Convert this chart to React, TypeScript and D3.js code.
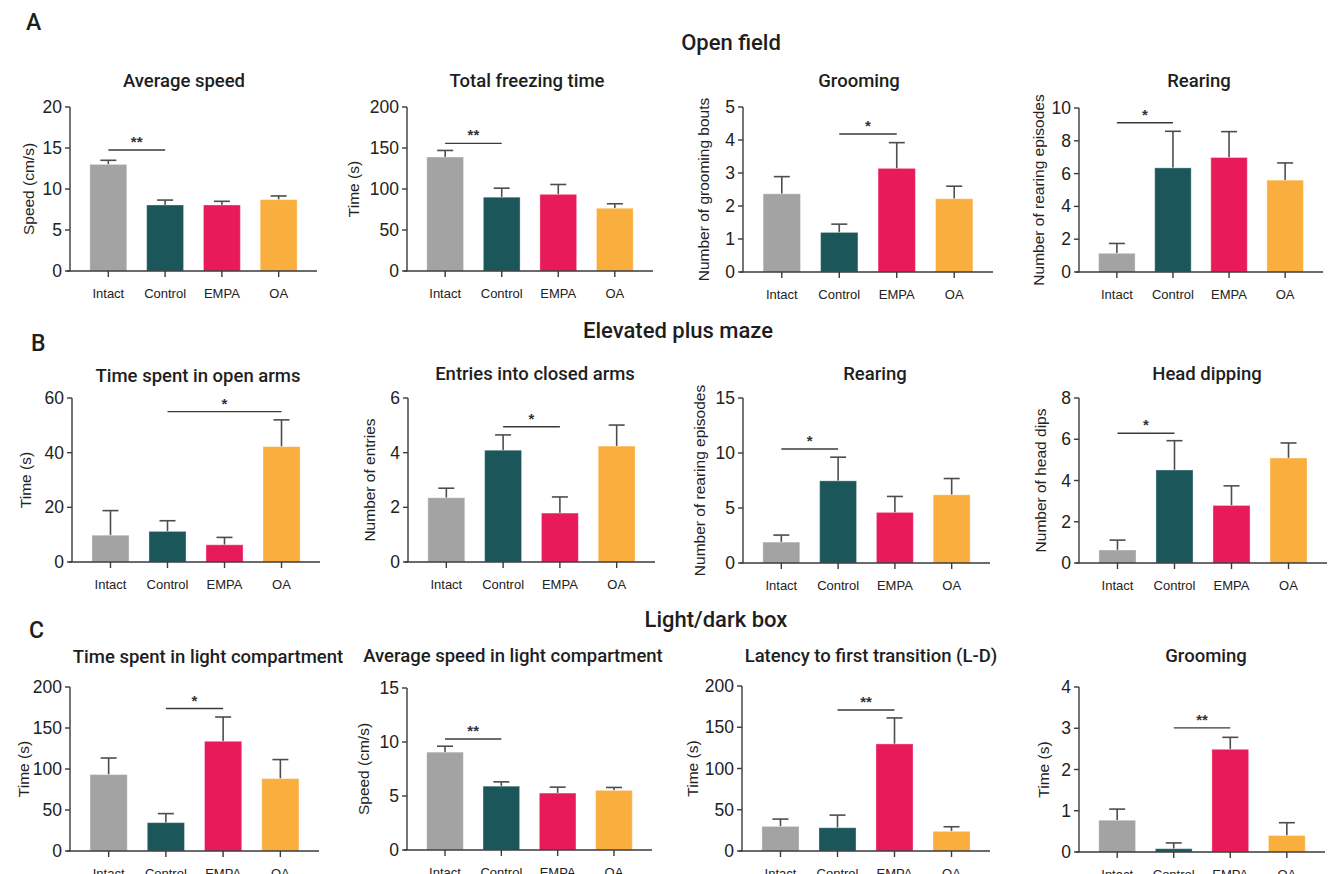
import React from "react";
import * as d3 from "d3";

const groups = ["Intact", "Control", "EMPA", "OA"];
const groupColors = ["#a3a3a3", "#1b565b", "#e91a5a", "#f9ae3e"];

// Open field
const ofSpeedMean = [13.0, 8.05, 8.05, 8.7];
const ofSpeedSem = [0.5, 0.6, 0.45, 0.45];
const ofFreezeMean = [139, 90, 93.5, 76.5];
const ofFreezeSem = [8, 11, 12, 5.5];
const ofGroomMean = [2.37, 1.2, 3.14, 2.22];
const ofGroomSem = [0.52, 0.25, 0.78, 0.38];
const ofRearMean = [1.14, 6.35, 6.98, 5.6];
const ofRearSem = [0.6, 2.23, 1.58, 1.05];
// Elevated plus maze
const epmOpenMean = [9.8, 11.2, 6.3, 42.2];
const epmOpenSem = [9.0, 3.9, 2.7, 9.8];
const epmClosedMean = [2.35, 4.09, 1.79, 4.24];
const epmClosedSem = [0.35, 0.56, 0.59, 0.77];
const epmRearMean = [1.9, 7.47, 4.6, 6.2];
const epmRearSem = [0.64, 2.15, 1.45, 1.48];
const epmDipMean = [0.63, 4.51, 2.79, 5.09];
const epmDipSem = [0.48, 1.42, 0.95, 0.73];
// Light/dark box
const ldTimeMean = [93.2, 34.6, 133.8, 88.3];
const ldTimeSem = [20.2, 11, 29.6, 23.2];
const ldSpeedMean = [9.06, 5.91, 5.27, 5.52];
const ldSpeedSem = [0.55, 0.4, 0.55, 0.27];
const ldLatencyMean = [29.8, 28.2, 129.8, 23.8];
const ldLatencySem = [8.9, 15.3, 31.5, 5.6];
const ldGroomMean = [0.77, 0.08, 2.49, 0.4];
const ldGroomSem = [0.27, 0.14, 0.29, 0.31];

// tick values
const ticks0to20by5 = [0, 5, 10, 15, 20];
const ticks0to200by50 = [0, 50, 100, 150, 200];
const ticks0to5 = [0, 1, 2, 3, 4, 5];
const ticks0to10by2 = [0, 2, 4, 6, 8, 10];
const ticks0to60by20 = [0, 20, 40, 60];
const ticks0to6by2 = [0, 2, 4, 6];
const ticks0to15by5 = [0, 5, 10, 15];
const ticks0to8by2 = [0, 2, 4, 6, 8];
const ticks0to4 = [0, 1, 2, 3, 4];

// significance: [from, to, value, label]
const sigs = [
  [0, 1, 14.75, "**"],
  [0, 1, 155.7, "**"],
  [1, 2, 4.18, "*"],
  [0, 1, 9.1, "*"],
  [1, 3, 55, "*"],
  [1, 2, 4.95, "*"],
  [0, 1, 10.37, "*"],
  [0, 1, 6.29, "*"],
  [1, 2, 173.7, "*"],
  [0, 1, 10.28, "**"],
  [1, 2, 171, "**"],
  [1, 2, 3.01, "**"],
];

const panels = [
  { title: "Average speed", ylabel: "Speed (cm/s)", mean: ofSpeedMean, sem: ofSpeedSem, ticks: ticks0to20by5,
    x0: 70, x1: 317, top: 107, bot: 271, tx: 184, ty: 82, lx: 28 },
  { title: "Total freezing time", ylabel: "Time (s)", mean: ofFreezeMean, sem: ofFreezeSem, ticks: ticks0to200by50,
    x0: 407, x1: 653, top: 107, bot: 271, tx: 527, ty: 82, lx: 353 },
  { title: "Grooming", ylabel: "Number of grooming bouts", mean: ofGroomMean, sem: ofGroomSem, ticks: ticks0to5,
    x0: 743, x1: 993, top: 107, bot: 272, tx: 859, ty: 82, lx: 703 },
  { title: "Rearing", ylabel: "Number of rearing episodes", mean: ofRearMean, sem: ofRearSem, ticks: ticks0to10by2,
    x0: 1079, x1: 1323, top: 108, bot: 272, tx: 1199, ty: 82, lx: 1038 },
  { title: "Time spent in open arms", ylabel: "Time (s)", mean: epmOpenMean, sem: epmOpenSem, ticks: ticks0to60by20,
    x0: 72, x1: 320, top: 398, bot: 562, tx: 198, ty: 377, lx: 25 },
  { title: "Entries into closed arms", ylabel: "Number of entries", mean: epmClosedMean, sem: epmClosedSem, ticks: ticks0to6by2,
    x0: 408, x1: 655, top: 398, bot: 562, tx: 535, ty: 375, lx: 369 },
  { title: "Rearing", ylabel: "Number of rearing episodes", mean: epmRearMean, sem: epmRearSem, ticks: ticks0to15by5,
    x0: 743, x1: 990, top: 398, bot: 563, tx: 875, ty: 375, lx: 699 },
  { title: "Head dipping", ylabel: "Number of head dips", mean: epmDipMean, sem: epmDipSem, ticks: ticks0to8by2,
    x0: 1079, x1: 1327, top: 398, bot: 563, tx: 1207, ty: 375, lx: 1040 },
  { title: "Time spent in light compartment", ylabel: "Time (s)", mean: ldTimeMean, sem: ldTimeSem, ticks: ticks0to200by50,
    x0: 70, x1: 319, top: 687, bot: 851, tx: 208, ty: 658, lx: 23 },
  { title: "Average speed in light compartment", ylabel: "Speed (cm/s)", mean: ldSpeedMean, sem: ldSpeedSem, ticks: ticks0to15by5,
    x0: 407, x1: 652, top: 688, bot: 850, tx: 513, ty: 657, lx: 363 },
  { title: "Latency to first transition (L-D)", ylabel: "Time (s)", mean: ldLatencyMean, sem: ldLatencySem, ticks: ticks0to200by50,
    x0: 742, x1: 990, top: 686, bot: 851, tx: 871, ty: 657, lx: 692 },
  { title: "Grooming", ylabel: "Time (s)", mean: ldGroomMean, sem: ldGroomSem, ticks: ticks0to4,
    x0: 1079, x1: 1325, top: 687, bot: 852, tx: 1206, ty: 657, lx: 1043 },
];

const sections = [
  { letter: "A", title: "Open field", lx: 26, ly: 30, tx: 731, ty: 50 },
  { letter: "B", title: "Elevated plus maze", lx: 31, ly: 351, tx: 678, ty: 338 },
  { letter: "C", title: "Light/dark box", lx: 29, ly: 638, tx: 716, ty: 627 },
];

const FONT = "'Liberation Sans', Arial, Helvetica, sans-serif";
const TFONT = "Roboto, 'Liberation Sans', Arial, sans-serif";
const AX = "#3a3a3a";
const EB = "#4d4d4d";

function Panel({ p, sig }: any) {
  const x = d3.scaleBand<string>().domain(groups).range([p.x0, p.x1]).paddingInner(0.35).paddingOuter(0.35);
  const ymax = p.ticks[p.ticks.length - 1];
  const y = d3.scaleLinear().domain([0, ymax]).range([p.bot, p.top]);
  const bw = x.bandwidth();
  const cap = 16;
  const [a, b, sv, slabel] = sig;
  const ca = (x(groups[a]) as number) + bw / 2;
  const cb = (x(groups[b]) as number) + bw / 2;
  return (
    <g>
      <text x={p.tx} y={p.ty} textAnchor="middle" dominantBaseline="middle" fontFamily={TFONT} fontWeight={500} fontSize={18.5} fill="#1e1e1e">
        {p.title}
      </text>
      {groups.map((g, i) => {
        const bx = x(g) as number;
        const cx = bx + bw / 2;
        const yt = y(p.mean[i]);
        const ye = y(p.mean[i] + p.sem[i]);
        return (
          <g key={g}>
            <line x1={cx} x2={cx} y1={yt} y2={ye} stroke={EB} strokeWidth={1.6} />
            <line x1={cx - cap / 2} x2={cx + cap / 2} y1={ye} y2={ye} stroke={EB} strokeWidth={1.6} />
            <rect x={bx} y={yt} width={bw} height={p.bot - yt} fill={groupColors[i]} stroke="#ffffff" strokeOpacity={0.35} strokeWidth={1} />
          </g>
        );
      })}
      {/* y axis */}
      <line x1={p.x0} x2={p.x0} y1={p.top} y2={p.bot} stroke={AX} strokeWidth={1.4} />
      {p.ticks.map((t: number) => (
        <g key={t}>
          <line x1={p.x0 - 5} x2={p.x0} y1={y(t)} y2={y(t)} stroke={AX} strokeWidth={1.4} />
          <text x={p.x0 - 8} y={y(t)} textAnchor="end" dominantBaseline="central" fontFamily={FONT} fontSize={17.5} fill="#222">
            {t}
          </text>
        </g>
      ))}
      {/* x axis */}
      <line x1={p.x0 - 3} x2={p.x1} y1={p.bot} y2={p.bot} stroke={AX} strokeWidth={1.4} />
      {groups.map((g) => {
        const cx = (x(g) as number) + bw / 2;
        return (
          <g key={g}>
            <line x1={cx} x2={cx} y1={p.bot} y2={p.bot + 6} stroke={AX} strokeWidth={1.4} />
            <text x={cx} y={p.bot + 22} textAnchor="middle" dominantBaseline="central" fontFamily={FONT} fontSize={13} fill="#222">
              {g}
            </text>
          </g>
        );
      })}
      <text transform={`translate(${p.lx},${(p.top + p.bot) / 2}) rotate(-90)`} textAnchor="middle" dominantBaseline="central" fontFamily={FONT} fontSize={15.5} fill="#222">
        {p.ylabel}
      </text>
      {/* significance */}
      <line x1={ca} x2={cb} y1={y(sv)} y2={y(sv)} stroke={AX} strokeWidth={1.4} />
      <text x={(ca + cb) / 2} y={y(sv) - 3} textAnchor="middle" fontFamily={FONT} fontSize={15} fontWeight="bold" fill="#333">
        {slabel}
      </text>
    </g>
  );
}

export default function App() {
  return (
    <svg width={1333} height={874} style={{ position: "absolute", left: 0, top: 0, background: "#fff" }}>
      <rect width={1333} height={874} fill="#fff" />
      {sections.map((s) => (
        <g key={s.letter}>
          <text x={s.lx} y={s.ly} fontFamily={TFONT} fontWeight={500} fontSize={23} fill="#1e1e1e">{s.letter}</text>
          <text x={s.tx} y={s.ty} textAnchor="middle" fontFamily={TFONT} fontWeight={500} fontSize={22} fill="#1e1e1e">{s.title}</text>
        </g>
      ))}
      {panels.map((p, i) => (
        <Panel key={i} p={p} sig={sigs[i]} />
      ))}
    </svg>
  );
}
